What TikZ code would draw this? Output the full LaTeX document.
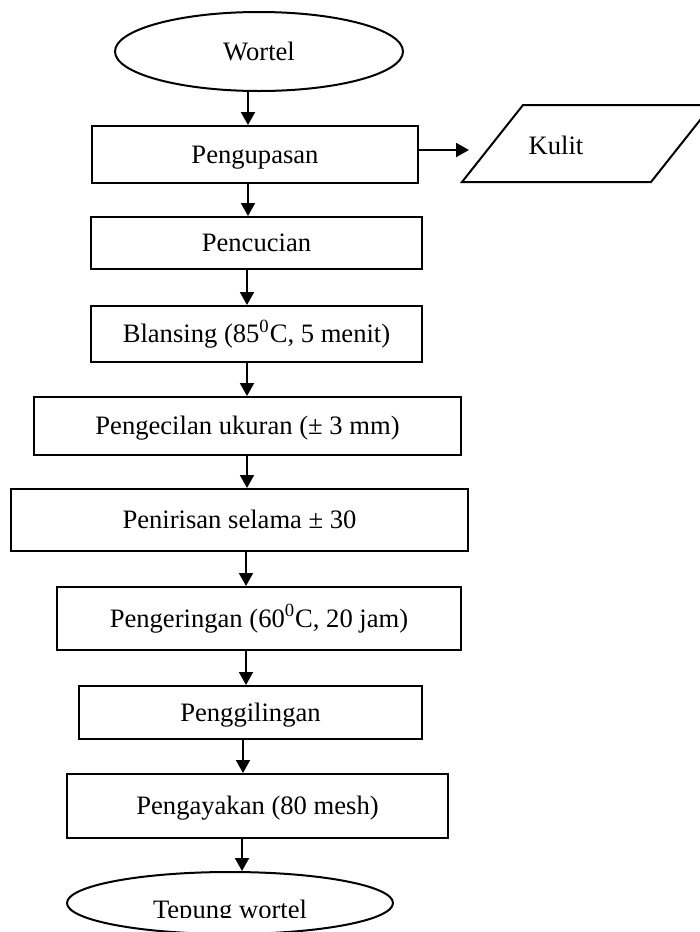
\documentclass[tikz,border=0pt]{standalone}
\usepackage{fontspec}
\setmainfont{Liberation Serif}
\usetikzlibrary{arrows.meta,shapes.geometric}
\definecolor{fc_line}{RGB}{0, 0, 0}
\tikzstyle{box}=[rectangle,draw=fc_line,fill=white,line width=1pt,inner sep=0pt,
  font=\fontsize{13.3}{15}\selectfont,text height=8.8pt,text depth=0pt]
\tikzstyle{oval}=[ellipse,draw=fc_line,fill=white,line width=1pt,inner sep=0pt,
  font=\fontsize{13.3}{15}\selectfont,text height=8.8pt,text depth=0pt]
\tikzstyle{none}=[inner sep=0pt,font=\fontsize{13.3}{15}\selectfont,text height=8.8pt,text depth=0pt]
\tikzstyle{arr}=[-{Triangle[width=7pt,length=6.5pt]},draw=fc_line,line width=1pt]

\begin{document}
\begin{tikzpicture}[x=0.5pt,y=-0.5pt]
            \fill [white] (0, 0) rectangle (700, 932);
            \useasboundingbox (0, 0) rectangle (700, 932);
            \node [style=oval, minimum width=144pt, minimum height=39.5pt] (0) at (259, 51.5) {Wortel};
            \node [style=box, minimum width=163pt, minimum height=28.5pt] (1) at (255, 154.5) {Pengupasan};
            \node [style=box, minimum width=165.5pt, minimum height=26pt] (2) at (256.5, 243) {Pencucian};
            \node [style=box, minimum width=165.5pt, minimum height=28pt] (3) at (256.5, 334) {Blansing (85\textsuperscript{0}C, 5 menit)};
            \node [style=box, minimum width=213.5pt, minimum height=29pt] (4) at (247.5, 426) {Pengecilan ukuran (± 3 mm)};
            \node [style=box, minimum width=228.5pt, minimum height=31pt] (5) at (239.5, 520) {Penirisan selama ± 30};
            \node [style=box, minimum width=202pt, minimum height=31.5pt] (6) at (259, 618.5) {Pengeringan (60\textsuperscript{0}C, 20 jam)};
            \node [style=box, minimum width=171.5pt, minimum height=26.5pt] (7) at (250.5, 712.5) {Penggilingan};
            \node [style=box, minimum width=190.5pt, minimum height=32pt] (8) at (257.5, 806) {Pengayakan (80 mesh)};
            \node [style=oval, minimum width=163pt, minimum height=31pt] (9) at (230, 903) {};
            \begin{scope}
                \clip (0, 0) rectangle (700, 917);
                \node [style=none] (10) at (230, 909.5) {Tepung wortel};
            \end{scope}
            \draw [line width=1pt] (523, 105) -- (712, 105) -- (651, 182) -- (462, 182) -- cycle;
            \node [style=none] (11) at (556, 146) {Kulit};
            \coordinate (12) at (469, 150);
            \draw [style=arr] (0.south -| 248,0) to (1.north -| 248,0);
            \draw [style=arr] (1.south -| 248,0) to (2.north -| 248,0);
            \draw [style=arr] (2.south -| 247,0) to (3.north -| 247,0);
            \draw [style=arr] (3.south -| 247,0) to (4.north -| 247,0);
            \draw [style=arr] (4.south -| 247,0) to (5.north -| 247,0);
            \draw [style=arr] (5.south -| 246,0) to (6.north -| 246,0);
            \draw [style=arr] (6.south -| 246,0) to (7.north -| 246,0);
            \draw [style=arr] (7.south -| 243,0) to (8.north -| 243,0);
            \draw [style=arr] (8.south -| 242,0) to (9.north -| 242,0);
            \draw [style=arr] (1.east |- 12) to (12);
\end{tikzpicture}
\end{document}
